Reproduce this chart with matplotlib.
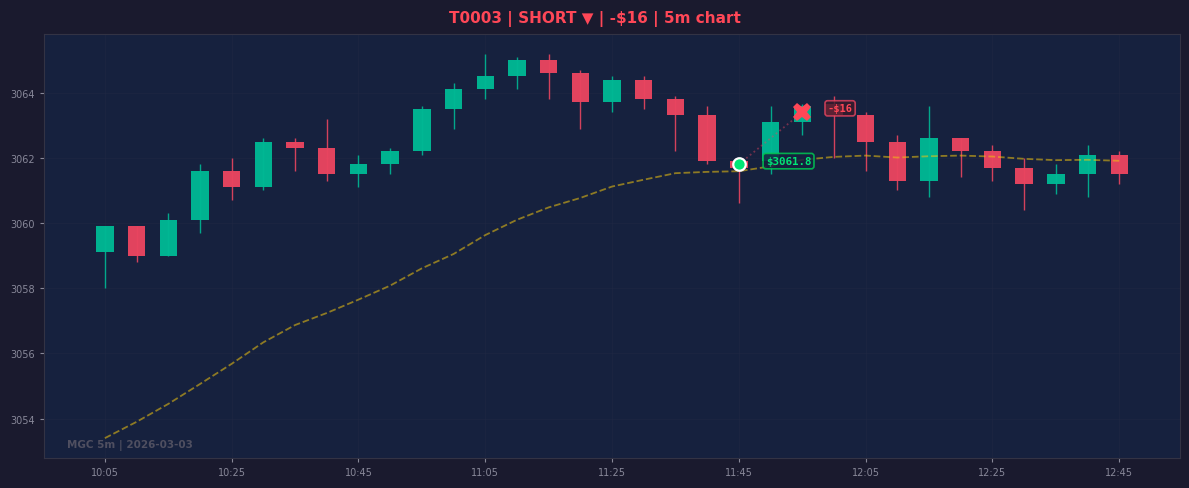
import matplotlib
matplotlib.use("Agg")
import matplotlib.pyplot as plt

# 5m candles, 10:05 -> 12:45
times = ["10:05", "10:10", "10:15", "10:20", "10:25", "10:30", "10:35", "10:40", "10:45", "10:50",
         "10:55", "11:00", "11:05", "11:10", "11:15", "11:20", "11:25", "11:30", "11:35", "11:40",
         "11:45", "11:50", "11:55", "12:00", "12:05", "12:10", "12:15", "12:20", "12:25", "12:30",
         "12:35", "12:40", "12:45"]
opens = [3059.1, 3059.9, 3059.0, 3060.1, 3061.6, 3061.1, 3062.5, 3062.3, 3061.5, 3061.8,
         3062.2, 3063.5, 3064.1, 3064.5, 3065.0, 3064.6, 3063.7, 3064.4, 3063.8, 3063.3,
         3061.9, 3061.9, 3063.1, 3063.65, 3063.3, 3062.5, 3061.3, 3062.6, 3062.2, 3061.7,
         3061.2, 3061.5, 3062.1]
highs = [3059.9, 3059.9, 3060.3, 3061.8, 3062.0, 3062.6, 3062.6, 3063.2, 3062.1, 3062.3,
         3063.6, 3064.3, 3065.2, 3065.1, 3065.2, 3064.7, 3064.5, 3064.5, 3063.9, 3063.6,
         3061.9, 3063.6, 3063.65, 3063.9, 3063.4, 3062.7, 3063.6, 3062.6, 3062.4, 3062.0,
         3061.8, 3062.4, 3062.2]
lows = [3058.0, 3058.8, 3059.0, 3059.7, 3060.7, 3061.0, 3061.6, 3061.3, 3061.1, 3061.5,
        3062.1, 3062.9, 3063.8, 3064.1, 3063.8, 3062.9, 3063.4, 3063.5, 3062.2, 3061.8,
        3060.6, 3061.5, 3062.7, 3062.0, 3061.6, 3061.0, 3060.8, 3061.4, 3061.3, 3060.4,
        3060.9, 3060.8, 3061.2]
closes = [3059.9, 3059.0, 3060.1, 3061.6, 3061.1, 3062.5, 3062.3, 3061.5, 3061.8, 3062.2,
          3063.5, 3064.1, 3064.5, 3065.0, 3064.6, 3063.7, 3064.4, 3063.8, 3063.3, 3061.9,
          3061.7, 3063.1, 3063.6, 3063.3, 3062.5, 3061.3, 3062.6, 3062.2, 3061.7, 3061.2,
          3061.5, 3062.1, 3061.5]
ema = [3053.40, 3053.90, 3054.45, 3055.06, 3055.68, 3056.34, 3056.87, 3057.24, 3057.65, 3058.08,
       3058.61, 3059.05, 3059.63, 3060.10, 3060.48, 3060.77, 3061.12, 3061.33, 3061.53, 3061.57,
       3061.59, 3061.74, 3061.94, 3062.03, 3062.07, 3062.01, 3062.05, 3062.07, 3062.04, 3061.97,
       3061.93, 3061.94, 3061.91]

entry_idx, entry_price = 20, 3061.8
exit_idx, exit_price = 22, 3063.4
pnl_text = "-$16"
title = "T0003 | SHORT \u25bc | -$16 | 5m chart"
watermark = "MGC 5m | 2026-03-03"

UP = "#00b894"
DOWN = "#e94560"
BG = "#1a1a2e"
PANEL = "#16213e"

fig = plt.figure(figsize=(11.89, 4.89), dpi=100, facecolor=BG)
ax = fig.add_axes([0.037, 0.0613, 0.9555, 0.8671], facecolor=PANEL)

# candles
w = 0.55
for i in range(len(times)):
    o, h, l, c = opens[i], highs[i], lows[i], closes[i]
    col = UP if c >= o else DOWN
    ax.vlines(i, l, h, color=col, linewidth=1, alpha=0.9, zorder=2)
    ax.bar(i, abs(c - o), bottom=min(o, c), width=w, color=col, alpha=0.97, linewidth=0, zorder=3)

# moving average
ax.plot(range(len(ema)), ema, color="#f1c40f", linestyle="--", linewidth=1.3, alpha=0.55, zorder=4)

# trade path
ax.plot([entry_idx, exit_idx], [entry_price, exit_price], color="#e94560", linestyle=":",
        linewidth=1.3, alpha=0.45, zorder=5)
ax.plot(entry_idx, entry_price, marker="o", markersize=9, color="#00e676",
        markeredgecolor="white", markeredgewidth=1.6, zorder=7)
ax.plot(exit_idx, exit_price, marker="X", markersize=13, color="#ff4757",
        markeredgewidth=0, zorder=7)

ax.text(entry_idx + 0.85, entry_price + 0.1, f"${entry_price:.1f}", color="#00e676", fontsize=7.8,
        family="DejaVu Sans Mono", fontweight="bold", ha="left", va="center", zorder=8,
        bbox=dict(boxstyle="round,pad=0.25", facecolor=PANEL, edgecolor="#00c853", alpha=0.85, linewidth=1.2))
ax.text(exit_idx + 0.8, exit_price + 0.12, pnl_text, color="#ff4757", fontsize=7.5,
        family="DejaVu Sans Mono", fontweight="bold", ha="left", va="center", zorder=8,
        bbox=dict(boxstyle="round,pad=0.25", facecolor="#3a1a2a", edgecolor="#e94560", alpha=0.8, linewidth=1.2))

ax.text(0.02, 0.02, watermark, transform=ax.transAxes, color="#4f4f60", fontsize=7.5,
        fontweight="bold", ha="left", va="bottom")

ax.set_xlim(-1.92, 33.92)
ax.set_ylim(3052.79, 3065.8)
ticks = list(range(0, len(times), 4))
ax.set_xticks(ticks)
ax.set_xticklabels([times[i] for i in ticks])
ax.set_yticks([3054, 3056, 3058, 3060, 3062, 3064])
ax.tick_params(colors="#888899", labelsize=7, length=3)
ax.grid(True, color="#222a45", linewidth=0.6, alpha=0.5)
ax.set_axisbelow(True)
for s in ax.spines.values():
    s.set_color("#333344")

fig.suptitle(title, color="#ff4757", fontsize=11, fontweight="bold", y=0.978)

fig.savefig("out.png", dpi=100, facecolor=BG)
